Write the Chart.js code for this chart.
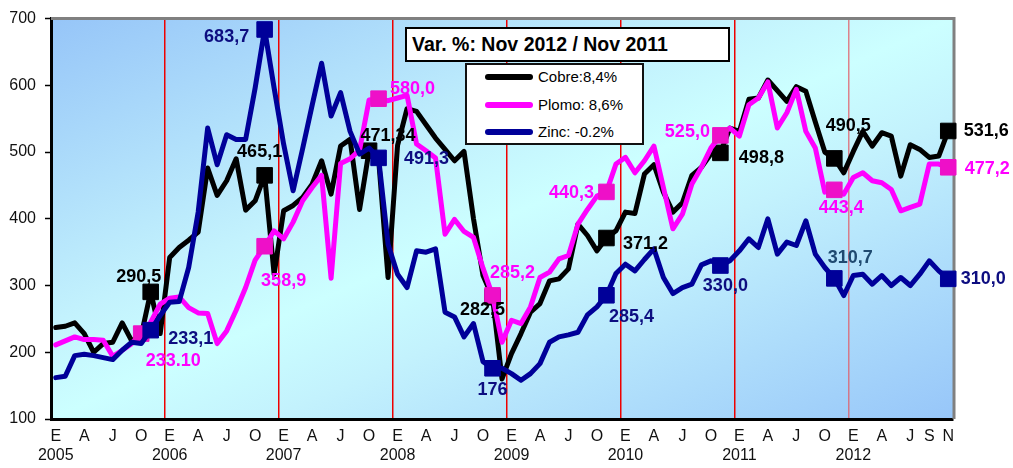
<!DOCTYPE html>
<html>
<head>
<meta charset="utf-8">
<script src="https://cdn.jsdelivr.net/npm/chart.js@4.4.1/dist/chart.umd.min.js"></script>
<style>
  html, body { margin: 0; padding: 0; background: #fff; }
  #wrap { position: relative; width: 1013px; height: 468px; font-family: Arial, "Liberation Sans", sans-serif; }
  #title { position: absolute; left: 405px; top: 27px; width: 325px; height: 35px; box-sizing: border-box;
           border: 2.5px solid #000; background: #fff; font-weight: bold; font-size: 19.5px;
           line-height: 30px; padding-left: 5px; white-space: nowrap; }
  #legend { position: absolute; left: 465px; top: 63px; width: 179px; height: 82px; box-sizing: border-box;
            border: 2px solid #111; background: #fff; font-size: 15px; }
  .row { position: absolute; left: 0; height: 18px; line-height: 18px; white-space: nowrap; }
  .row .swatch { position: absolute; left: 18px; top: 6px; width: 48px; height: 6px; border-radius: 3px; }
  .row .txt { position: absolute; left: 71px; top: 0; }
</style>
</head>
<body>
<div id="wrap">
  <canvas id="chart" width="1013" height="468"></canvas>
  <div id="title"></div>
  <div id="legend"></div>
</div>
<script>
// months Jan 2005 .. Nov 2012
const years = [2005, 2006, 2007, 2008, 2009, 2010, 2011, 2012];
const monthLetters = ['E', '', '', 'A', '', '', 'J', '', '', 'O', '', ''];
const lastYearLetters = ['E', '', '', 'A', '', '', 'J', '', 'S', '', 'N'];
const yTicks = [100, 200, 300, 400, 500, 600, 700];

const cobre = [
  237, 239, 244, 228, 200, 213, 215, 244, 217, 225,
  290.5, 228, 342, 357, 368, 380, 476, 435, 457, 490,
  413, 427, 465.1, 317, 412, 420, 432, 452, 487, 437,
  509, 519, 414, 502, 490, 312, 510, 565, 561, 541,
  521, 504, 487, 501, 400, 315, 282.5, 160, 198, 228,
  260, 273, 307, 310, 325, 392, 375, 352, 371.2, 382,
  410, 408, 467, 481, 440, 410, 424, 465, 477, 497,
  498.8, 536, 531, 579, 581, 608, 592, 576, 598, 591,
  545, 500, 490.5, 469, 501, 531, 509, 529, 524, 464,
  511, 504, 492, 494, 531.6
];
const plomo = [
  211, 217, 223, 219, 219, 218, 194, 203, 213, 228,
  245, 272, 281, 283, 267, 259, 258, 213, 232, 263,
  297, 338, 358.9, 382, 370, 395, 427, 447, 465, 311,
  483, 490, 503, 578, 580, 577, 581, 585, 512, 502,
  491, 377, 399, 381, 372, 326, 285.2, 215, 248, 243,
  268, 312, 320, 340, 345, 392, 414, 434, 440.3, 482,
  492, 469, 487, 509, 447, 385, 407, 452, 477, 506,
  525, 536, 524, 571, 581, 605, 536, 559, 594, 531,
  506, 440, 443.4, 437, 462, 469, 457, 454, 444, 412,
  417, 422, 482, 482, 477.2
];
const zinc = [
  162, 164, 195, 197, 195, 192, 189, 203, 215, 213,
  233.1, 255, 275, 276, 327, 410, 536, 481, 526, 519,
  519, 596, 683.7, 596, 512, 442, 505, 570, 633, 554,
  589, 531, 497, 506, 491.3, 362, 317, 297, 352, 350,
  355, 260, 253, 223, 243, 186, 176, 176, 168, 158,
  168, 183, 215, 223, 226, 230, 256, 268, 285.4, 318,
  332, 322, 339, 355, 312, 288, 297, 302, 331, 337,
  330, 337, 352, 370, 357, 400, 347, 365, 360, 397,
  347, 327, 310.7, 285, 315, 317, 302, 315, 300, 312,
  300, 317, 337, 322, 310
];

// marked points and their labels
const cobreMarks = [10, 22, 33, 46, 58, 70, 82, 94];
const cobreMarkLabels = ['290,5', '465,1', '471,34', '282,5', '371,2', '498,8', '490,5', '531,6'];
const plomoMarks = [9, 22, 34, 46, 58, 70, 82, 94];
const plomoMarkLabels = ['233.10', '358,9', '580,0', '285,2', '440,3', '525,0', '443,4', '477,2'];
const zincMarks = [10, 22, 34, 46, 58, 70, 82, 94];
const zincMarkLabels = ['233,1', '683,7', '491,3', '176', '285,4', '330,0', '310,7', '310,0'];

const titleText = 'Var. %: Nov 2012 / Nov 2011';
const legendNames = ['Cobre:8,4%', 'Plomo: 8,6%', 'Zinc: -0.2%'];

// label placement relative to the marker (px)
const LABEL_OFFSETS = {
  cobre: [[-12, -15], [-5, -23], [19, -15], [-10, 13], [39, 6], [41, 5], [14, -32], [38, 0]],
  plomo: [[32, 27], [19, 35], [34, -10], [20, -22], [-35, 1], [-33, -3], [7, 18], [39, 2]],
  zinc: [[40, 9], [-38, 8], [48, 1], [0, 22], [25, 22], [5, 21], [16, -20], [35, 0]],
};

const categories = [];
const tickLabels = [];
years.forEach(y => {
  const letters = y === years[years.length - 1] ? lastYearLetters : monthLetters;
  letters.forEach((l, m) => {
    categories.push(`${y}-${String(m + 1).padStart(2, '0')}`);
    tickLabels.push(m === 0 ? [l, String(y)] : l);
  });
});

// HTML title + legend
document.getElementById('title').textContent = titleText;
const legendColors = ['#000000', '#ff00ff', '#000099'];
const legendEl = document.getElementById('legend');
legendNames.forEach((name, i) => {
  legendEl.insertAdjacentHTML('beforeend', `
    <div class="row" style="top:${3 + i * 27.5}px">
      <span class="swatch" style="background:${legendColors[i]}"></span>
      <span class="txt">${name}</span>
    </div>`);
});

const markRadius = (marks) => (ctx) => marks.includes(ctx.dataIndex) ? 11 : 0;

function series(label, data, color, markColor, marks, order) {
  return {
    label, data, order,
    borderColor: color,
    backgroundColor: markColor,
    borderWidth: 5,
    borderJoinStyle: 'round',
    borderCapStyle: 'round',
    tension: 0,
    pointStyle: 'rect',
    pointRadius: markRadius(marks),
    pointHoverRadius: markRadius(marks),
    pointBackgroundColor: markColor,
    pointBorderColor: markColor,
    pointBorderWidth: 1,
    clip: false,
  };
}

const plotBackground = {
  id: 'plotBackground',
  beforeDraw(chart) {
    const { ctx, chartArea: a } = chart;
    // diagonal gradient in the unit box, stretched over the plot area
    ctx.save();
    ctx.translate(a.left, a.top);
    ctx.scale(a.right - a.left, a.bottom - a.top);
    const g = ctx.createLinearGradient(0, 0, 1, 1);
    g.addColorStop(0, '#96c5f8');
    g.addColorStop(0.38, '#c3f2fd');
    g.addColorStop(0.5, '#ccffff');
    g.addColorStop(0.62, '#c3f2fd');
    g.addColorStop(1, '#97c6f9');
    ctx.fillStyle = g;
    ctx.fillRect(0, 0, 1, 1);
    ctx.restore();
  },
  beforeDatasetsDraw(chart) {
    const { ctx, chartArea: a } = chart;
    ctx.save();
    ctx.strokeStyle = '#808080';
    ctx.lineWidth = 3;
    ctx.beginPath();
    ctx.moveTo(a.left, a.top);
    ctx.lineTo(a.right + 1, a.top);
    ctx.lineTo(a.right + 1, a.bottom);
    ctx.stroke();
    ctx.restore();
  },
};

const markLabels = {
  id: 'markLabels',
  afterDatasetsDraw(chart) {
    const { ctx } = chart;
    const sets = [
      { ds: 0, marks: cobreMarks, texts: cobreMarkLabels, offs: LABEL_OFFSETS.cobre, color: () => '#000000' },
      { ds: 1, marks: plomoMarks, texts: plomoMarkLabels, offs: LABEL_OFFSETS.plomo, color: () => '#ff00ff' },
      { ds: 2, marks: zincMarks, texts: zincMarkLabels, offs: LABEL_OFFSETS.zinc,
        color: (k) => k === 6 ? '#1f4a70' : '#0d0d80' },
    ];
    ctx.save();
    ctx.font = 'bold 18px Arial, "Liberation Sans", sans-serif';
    ctx.textAlign = 'center';
    ctx.textBaseline = 'middle';
    sets.forEach(s => {
      const meta = chart.getDatasetMeta(s.ds);
      s.marks.forEach((idx, k) => {
        const pt = meta.data[idx];
        ctx.fillStyle = s.color(k);
        ctx.fillText(s.texts[k], pt.x + s.offs[k][0], pt.y + s.offs[k][1]);
      });
    });
    ctx.restore();
  },
};

new Chart(document.getElementById('chart').getContext('2d'), {
  type: 'line',
  data: {
    labels: categories,
    datasets: [
      series('Cobre', cobre, '#000000', '#000000', cobreMarks, 2),
      series('Plomo', plomo, '#ff00ff', '#ee10c8', plomoMarks, 1),
      series('Zinc', zinc, '#000099', '#000099', zincMarks, 0),
    ],
  },
  options: {
    responsive: false,
    animation: false,
    devicePixelRatio: 1,
    layout: { padding: { top: 17, right: 60, left: 0, bottom: 0 } },
    plugins: {
      legend: { display: false },
      tooltip: { enabled: false },
    },
    scales: {
      x: {
        type: 'category',
        offset: true,
        afterFit: (scale) => { scale.height = 49; },
        grid: {
          offset: true,
          drawTicks: false,
          lineWidth: 1.5,
          color: (ctx) => {
            const i = ctx.index;
            if (!i || i >= categories.length || i % 12 !== 0) return 'rgba(0,0,0,0)';
            return i === 84 ? 'rgba(225,90,100,0.75)' : '#ee0000';
          },
        },
        border: { color: '#000', width: 3 },
        ticks: {
          autoSkip: false,
          maxRotation: 0,
          padding: 8,
          color: '#111',
          font: { family: 'Arial, "Liberation Sans", sans-serif', size: 16, lineHeight: 1.2 },
          callback: (v, i) => tickLabels[i],
        },
      },
      y: {
        min: yTicks[0],
        max: yTicks[yTicks.length - 1],
        afterFit: (scale) => { scale.width = 51; },
        afterBuildTicks: (scale) => { scale.ticks = yTicks.map(v => ({ value: v })); },
        grid: {
          drawOnChartArea: false,
          drawTicks: true,
          tickLength: 6,
          tickColor: '#000',
          tickWidth: 1.5,
        },
        border: { color: '#000', width: 3 },
        ticks: {
          padding: 9,
          color: '#111',
          font: { family: 'Arial, "Liberation Sans", sans-serif', size: 16 },
        },
      },
    },
  },
  plugins: [plotBackground, markLabels],
});
</script>
</body>
</html>
